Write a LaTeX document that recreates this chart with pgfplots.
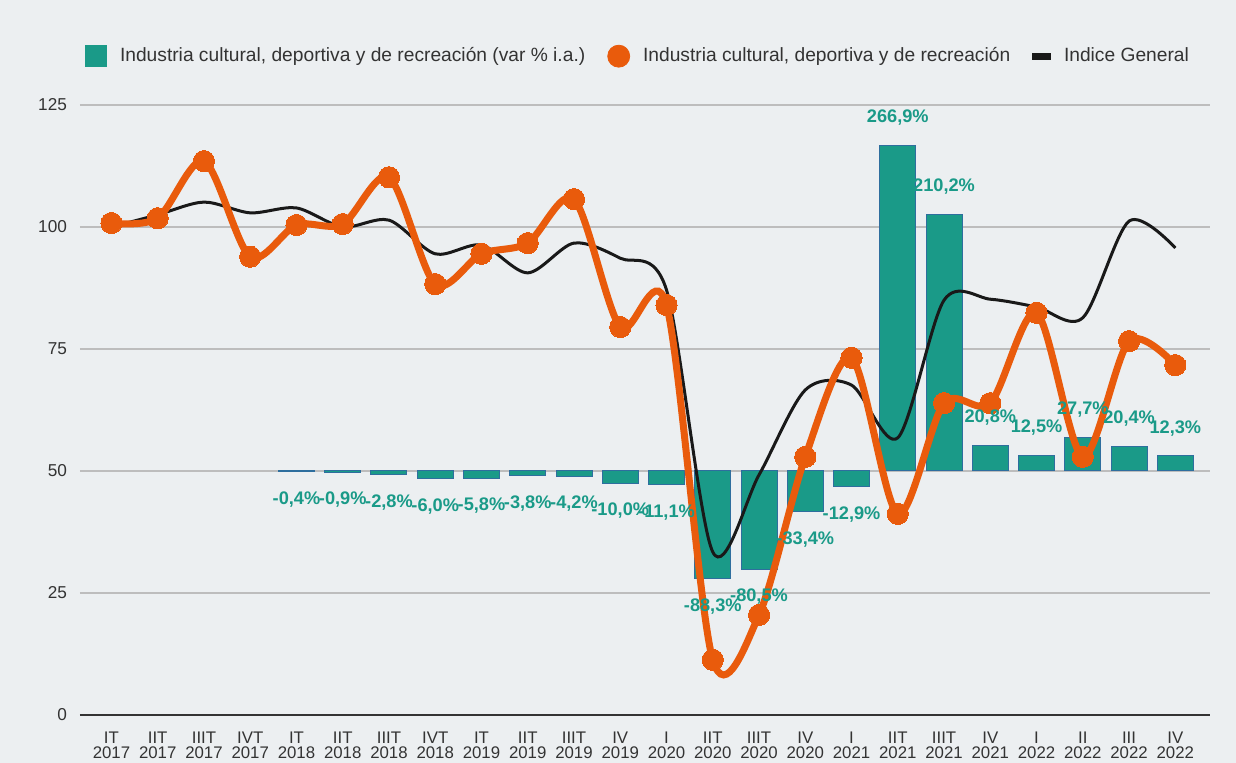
\documentclass[border=0pt]{standalone}
\usepackage{pgfplots}
\pgfplotsset{compat=1.18}
\usepackage{pgfplotstable}
\usepackage{fontspec}
\setmainfont{Liberation Sans}

\definecolor{bg}{HTML}{ECEFF1}
\definecolor{tealc}{HTML}{1A9A88}
\definecolor{barline}{HTML}{2E6E9E}
\definecolor{orangec}{HTML}{E95B0C}
\definecolor{gridc}{HTML}{BDBDBD}
\definecolor{textc}{HTML}{333333}

% bar: var % i.a. ; cult: indice industria cultural ; gen: indice general
\pgfplotstableread{
x  bar    cult   gen
0  nan    100.8  100.0
1  nan    101.8  102.5
2  nan    113.5  105.1
3  nan    93.9   102.9
4  -0.4   100.4  103.9
5  -0.9   100.6  100.0
6  -2.8   110.2  101.4
7  -6.0   88.3   94.5
8  -5.8   94.5   96.3
9  -3.8   96.7   90.6
10 -4.2   105.7  96.7
11 -10.0  79.5   93.6
12 -11.1  84.0   87.1
13 -88.3  11.3   33.4
14 -80.5  20.5   49.2
15 -33.4  52.9   66.6
16 -12.9  73.2   67.6
17 266.9  41.2   56.8
18 210.2  63.9   85.0
19 20.8   63.9   85.2
20 12.5   82.4   83.6
21 27.7   52.9   81.4
22 20.4   76.6   101.2
23 12.3   71.7   95.7
}\datatable

\pgfplotsset{
  base/.style={scale only axis, width=565pt, height=305pt,
    xmin=-0.68, xmax=23.75},
  barax/.style={base, ymin=-200, ymax=300, hide axis},
}

\begin{document}
\begin{tikzpicture}
\fill[bg] (-40pt,-24pt) rectangle (578pt,357.5pt);

% axis with grid, ticks and legend
\begin{axis}[base,
  ymin=0, ymax=125, ytick={0,25,...,125},
  ymajorgrids, grid style={gridc, line width=0.6pt},
  axis x line*=bottom, axis y line*=left,
  y axis line style={draw=none},
  x axis line style={textc, line width=0.8pt},
  major tick length=0pt,
  xtick={0,...,23},
  xticklabels={{IT\\2017},{IIT\\2017},{IIIT\\2017},{IVT\\2017},{IT\\2018},{IIT\\2018},{IIIT\\2018},{IVT\\2018},{IT\\2019},{IIT\\2019},{IIIT\\2019},{IV\\2019},{I\\2020},{IIT\\2020},{IIIT\\2020},{IV\\2020},{I\\2021},{IIT\\2021},{IIIT\\2021},{IV\\2021},{I\\2022},{II\\2022},{III\\2022},{IV\\2022}},
  xticklabel style={align=center, font=\fontsize{8.4}{7.6}\selectfont, text=textc, yshift=-5pt},
  yticklabel style={font=\fontsize{8.6}{10}\selectfont, text=textc, xshift=-3pt},
  /pgf/number format/assume math mode=true,
  legend columns=3,
  legend style={at={(0.493,1.08)}, anchor=center, draw=none, fill=none,
    font=\fontsize{9.6}{11}\selectfont, text=textc,
    nodes={inner sep=0pt},
    /tikz/every odd column/.append style={column sep=6.5pt},
    /tikz/every even column/.append style={column sep=11pt}},
]
\addlegendimage{legend image code/.code={\fill[tealc] (0pt,-5.25pt) rectangle (10.5pt,5.25pt);}}
\addlegendentry{Industria cultural, deportiva y de recreación (var \% i.a.)}
\addlegendimage{legend image code/.code={\fill[orangec] (5.5pt,0pt) circle (5.5pt);}}
\addlegendentry{Industria cultural, deportiva y de recreación}
\addlegendimage{legend image code/.code={\fill[black!90] (0pt,-1.6pt) rectangle (9pt,1.6pt);}}
\addlegendentry{Indice General}
\end{axis}

% bars (var % i.a.), 0 aligned with 50 of the index axis
\begin{axis}[barax]
\addplot[ybar, bar width=18pt, bar shift=0pt, fill=tealc, draw=barline, line width=0.5pt]
  table[x=x, y=bar] {\datatable};
\end{axis}

% index lines
\begin{axis}[base, ymin=0, ymax=125, hide axis]
\addplot[black!90, line width=1.5pt, smooth, no markers]
  table[x=x, y=gen] {\datatable};
\addplot[orangec, line width=3.5pt, smooth, mark=*, mark size=5.3pt,
  mark options={fill=orangec, draw=orangec, line width=0pt}]
  table[x=x, y=cult] {\datatable};
\end{axis}

% bar labels on top
\begin{axis}[barax, /pgf/number format/assume math mode=true]
\addplot[ybar, bar width=18pt, bar shift=0pt, draw=none, fill=none,
  nodes near coords={\pgfmathprintnumber[fixed, fixed zerofill, precision=1, use comma]{\pgfplotspointmeta}\%},
  nodes near coords align=vertical,
  every node near coord/.append style={font=\bfseries\fontsize{9.1}{10}\selectfont,
    text=tealc, inner sep=0pt, outer sep=10pt}]
  table[x=x, y=bar] {\datatable};
\end{axis}

\pgfresetboundingbox
\useasboundingbox (-40pt,-24pt) rectangle (578pt,357.5pt);
\end{tikzpicture}
\end{document}
